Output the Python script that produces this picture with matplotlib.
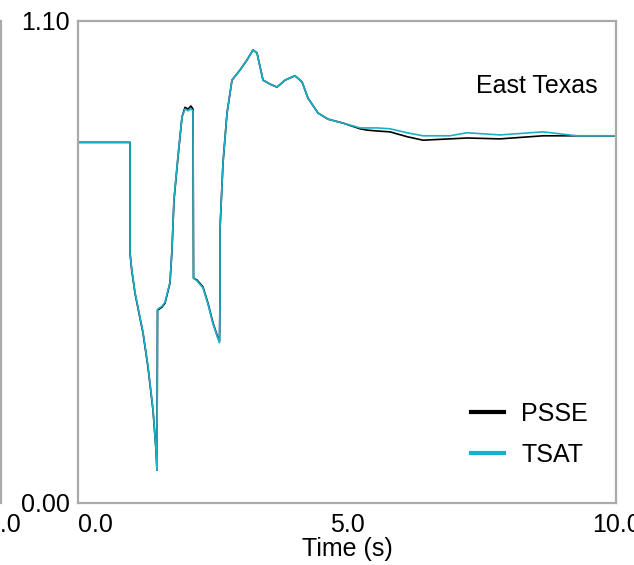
import matplotlib
matplotlib.use('Agg')
import matplotlib.pyplot as plt
from matplotlib.transforms import ScaledTranslation

plt.rcParams['font.family'] = ['Liberation Sans', 'DejaVu Sans']

# values (time in s, voltage in pu)
t_common = [0.0, 0.967, 0.967, 0.998, 1.059, 1.208, 1.301, 1.394, 1.450, 1.468,
            1.478, 1.561, 1.617, 1.710, 1.747, 1.784, 1.859, 1.933, 1.989, 2.045,
            2.100, 2.138, 2.147, 2.212, 2.323, 2.416, 2.509, 2.602, 2.630, 2.639,
            2.639, 2.695, 2.770, 2.862, 3.011, 3.141, 3.253, 3.327, 3.439, 3.569,
            3.699, 3.848, 4.033, 4.164, 4.275, 4.461, 4.647, 4.926]
v_psse_common = [0.823, 0.823, 0.571, 0.532, 0.479, 0.388, 0.310, 0.212, 0.121, 0.075,
                 0.440, 0.447, 0.456, 0.502, 0.577, 0.691, 0.790, 0.881, 0.903, 0.899,
                 0.906, 0.899, 0.513, 0.509, 0.493, 0.456, 0.411, 0.377, 0.370, 0.463,
                 0.623, 0.776, 0.890, 0.965, 0.988, 1.011, 1.034, 1.027, 0.965, 0.956,
                 0.949, 0.965, 0.975, 0.961, 0.924, 0.890, 0.876, 0.867]
v_tsat_common = [0.823, 0.823, 0.571, 0.534, 0.481, 0.390, 0.312, 0.214, 0.121, 0.075,
                 0.442, 0.449, 0.458, 0.504, 0.579, 0.693, 0.792, 0.881, 0.899, 0.895,
                 0.900, 0.895, 0.513, 0.507, 0.491, 0.454, 0.409, 0.375, 0.366, 0.463,
                 0.623, 0.776, 0.890, 0.965, 0.988, 1.011, 1.034, 1.027, 0.965, 0.956,
                 0.949, 0.965, 0.975, 0.961, 0.924, 0.890, 0.876, 0.867]

t_tail = [5.242, 5.372, 5.558, 5.799, 6.115, 6.413, 6.914, 7.230, 7.844, 8.643, 9.275, 10.0]
v_psse_tail = [0.854, 0.851, 0.849, 0.847, 0.836, 0.828, 0.831, 0.833, 0.831, 0.838, 0.838, 0.838]
v_tsat_tail = [0.856, 0.856, 0.856, 0.854, 0.845, 0.838, 0.838, 0.845, 0.840, 0.847, 0.838, 0.838]

t_psse = t_common + t_tail
v_psse = v_psse_common + v_psse_tail
t_tsat = t_common + t_tail
v_tsat = v_tsat_common + v_tsat_tail

x_ticks = [0.0, 5.0, 10.0]
y_ticks = [0.0, 1.10]
region = 'East Texas'

spine_col = '#aaaaaa'
tsat_col = '#1aafca'
fs = 18

fig = plt.figure(figsize=(6.34, 5.65), dpi=100)
ax = fig.add_axes([78/634, 62/565, 538/634, 482/565])

ax.plot(t_psse, v_psse, color='black', lw=1.2, label='PSSE')
ax.plot(t_tsat, v_tsat, color=tsat_col, lw=1.2, label='TSAT')

ax.set_xlim(0, 10)
ax.set_ylim(0, 1.10)
ax.set_xticks(x_ticks)
ax.set_xticklabels(['%.1f' % v for v in x_ticks])
ax.set_yticks(y_ticks)
ax.set_yticklabels(['%.2f' % v for v in y_ticks])
ax.xaxis.get_ticklabels()[0].set_ha('left')
ax.tick_params(length=0, labelsize=fs)
ax.tick_params(axis='x', pad=7)
ax.tick_params(axis='y', pad=6)
for s in ax.spines.values():
    s.set_color(spine_col)
    s.set_linewidth(1.6)
ax.set_xlabel('Time (s)', fontsize=fs, labelpad=0)

ax.text(0.965, 0.865, region, transform=ax.transAxes, ha='right', va='center', fontsize=fs)
leg = ax.legend(loc='lower right', bbox_to_anchor=(0.99, 0.028), frameon=False,
                fontsize=fs, handlelength=1.3, handletextpad=0.7, labelspacing=0.7)
for h in leg.get_lines():
    h.set_linewidth(3)

# sliver of the neighbouring panel on the left
ax0 = fig.add_axes([1/634 - 0.5, 62/565, 0.5, 482/565])
ax0.set_xlim(0, 10)
ax0.set_ylim(0, 1.10)
ax0.set_xticks([10.0])
ax0.set_xticklabels(['10.0'])
ax0.set_yticks([])
ax0.tick_params(length=0, labelsize=fs, pad=7)
shift = ScaledTranslation(-5/100, 0, fig.dpi_scale_trans)
for lab in ax0.get_xticklabels():
    lab.set_transform(lab.get_transform() + shift)
for k, s in ax0.spines.items():
    s.set_visible(k == 'right')
    s.set_color(spine_col)
    s.set_linewidth(1.6)

fig.savefig('out.png', dpi=100)
